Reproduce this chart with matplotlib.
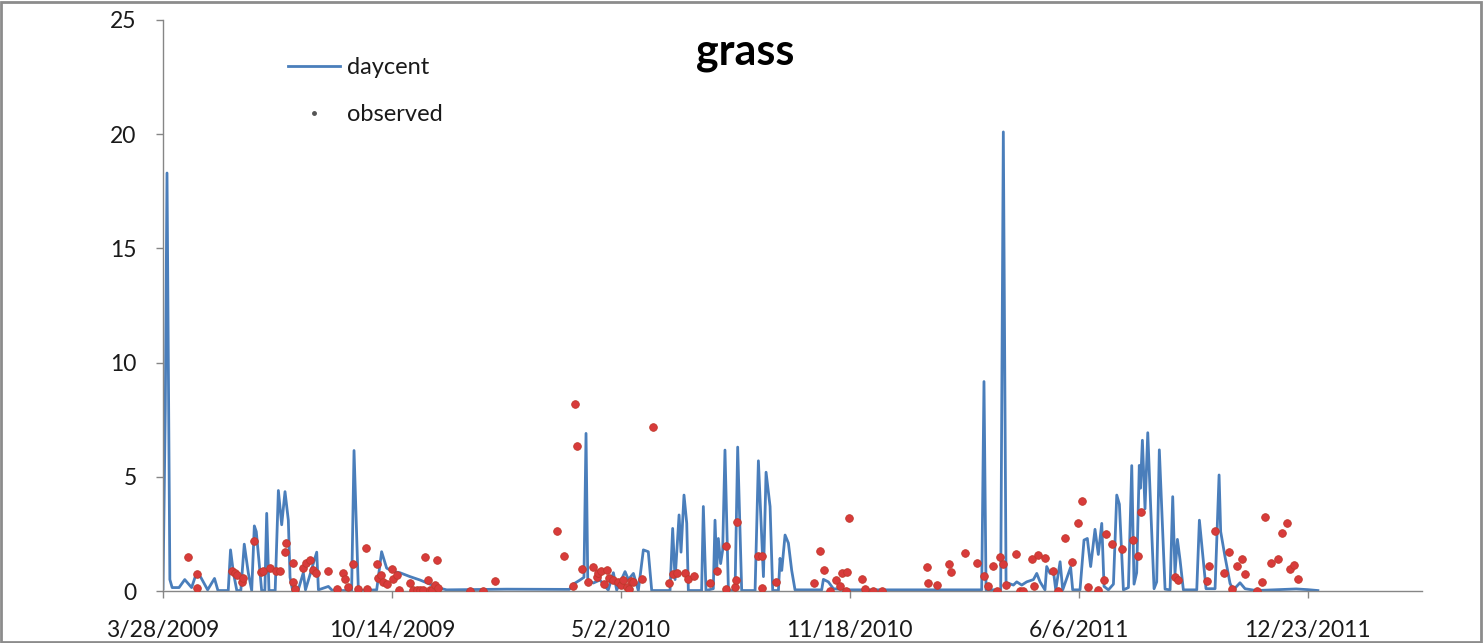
import datetime as dt
import matplotlib
matplotlib.use("Agg")
import matplotlib.pyplot as plt
import matplotlib.dates as mdates
from matplotlib.lines import Line2D
from matplotlib.patches import Rectangle

plt.rcParams['font.family'] = ['Lato', 'DejaVu Sans']

start_date = "3/28/2009"
title = "grass"
series_names = ["daycent", "observed"]
tick_labels = ["3/28/2009", "10/14/2009", "5/2/2010", "11/18/2010", "6/6/2011", "12/23/2011"]
x_span_days = 1100
y_max = 25

# daycent (days after start date, value)
daycent_day = [0, 2, 3.5, 6, 8, 14, 19, 25, 29, 33, 39, 45, 48, 57, 59, 61.5, 64.5, 68, 71, 74.5, 77.5,
               79.8, 81.5, 83.3, 86.2, 89, 90.6, 92.6, 98, 100.8, 103.7, 106.6, 109.5, 111, 113.3, 118,
               122.6, 124.5, 134.3, 135.8, 144.5, 148, 164.8, 166.9, 170.7, 186.7, 191, 195.4, 201.2,
               207, 215.8, 224.6, 233.3, 242, 247.9, 300, 355, 358.5, 364.3, 367.8, 369.6, 371.1, 376,
               381.8, 389, 393.5, 396.4, 403.7, 406.6, 411, 415.3, 419.7, 424, 427, 443, 445.3, 447.4,
               450.9, 452.6, 455.2, 457.6, 459, 470.6, 472.1, 474.4, 480.8, 482.3, 483.8, 485.2, 487.2,
               489, 491, 494, 499.8, 502.1, 505.6, 517.3, 520.2, 524.6, 526.9, 530.4, 532.7, 537.7,
               539.1, 540.6, 543.5, 546.4, 549.3, 552.2, 575.5, 577, 581.3, 585.7, 600, 715.3, 717.3,
               719.1, 731.9, 734.2, 736.6, 738.6, 743, 745.9, 750.3, 754.6, 760.5, 763.4, 766.3, 770.6,
               772.1, 775, 777.9, 780, 783.8, 786.1, 793, 794.8, 801.2, 804.7, 807.6, 810.5, 814.3,
               817.2, 820.2, 822.2, 826, 830.4, 833.3, 835.6, 839.1, 843.5, 846.4, 848.4, 850.7, 853,
               854, 855.7, 858, 860.4, 863, 865.9, 868.2, 870.5, 872.6, 875.5, 879.9, 882.2, 884.2,
               886.3, 888.6, 891.5, 903.2, 905.5, 908.4, 911.3, 919.2, 922.7, 924.1, 927.9, 932.3,
               935.2, 941, 945.4, 955, 980, 990, 1000, 1009]
daycent_val = [0.1, 8.0, 18.3, 0.5, 0.15, 0.15, 0.5, 0.15, 0.75, 0.6, 0.05, 0.55, 0.02, 0.02, 1.8, 0.8,
               0.02, 0.02, 2.05, 0.8, 0.02, 2.85, 2.6, 1.6, 0.02, 0.02, 3.4, 0.02, 0.02, 4.4, 2.9, 4.35,
               3.1, 0.6, 0.02, 0.02, 0.8, 0.05, 1.7, 0.05, 0.2, 0.02, 0.02, 6.15, 0.02, 0.05, 1.72, 1.0,
               0.85, 0.8, 0.63, 0.48, 0.3, 0.12, 0.05, 0.08, 0.07, 0.3, 0.48, 0.6, 6.9, 0.5, 0.35, 0.48,
               0.04, 0.8, 0.04, 0.85, 0.5, 0.77, 0.02, 1.8, 1.72, 0.02, 0.02, 2.74, 0.5, 3.33, 1.7, 4.2,
               2.96, 0.02, 0.02, 3.7, 0.02, 0.1, 3.1, 1.0, 2.3, 1.2, 1.8, 6.17, 0.02, 0.02, 6.3, 0.02,
               0.02, 5.7, 0.63, 5.2, 3.7, 0.02, 0.02, 1.43, 0.9, 2.45, 2.1, 0.9, 0.05, 0.05, 0.51, 0.4,
               0.1, 0.05, 0.05, 9.17, 0.05, 0.05, 20.1, 0.2, 0.34, 0.26, 0.4, 0.26, 0.4, 0.5, 0.77, 0.4,
               0.05, 1.07, 0.77, 0.9, 0.05, 1.28, 0.05, 1.04, 0.05, 0.05, 2.23, 2.3, 1.07, 2.7, 1.6,
               2.96, 0.2, 0.05, 0.3, 4.2, 3.8, 0.05, 0.15, 5.49, 0.3, 0.8, 5.5, 4.5, 6.6, 3.6, 6.93,
               3.6, 0.1, 0.4, 6.18, 3.6, 0.08, 0.05, 4.13, 0.77, 2.26, 1.36, 0.05, 0.05, 3.1, 1.6, 0.1,
               0.1, 5.08, 2.6, 1.5, 0.33, 0.05, 0.36, 0.1, 0.02, 0.07, 0.09, 0.06, 0.02]

# observed (days after start date, value)
obs_day = [22.1, 29.4, 30, 60, 62.9, 64.9, 68.7, 70.2, 79.5, 85.3, 87.7, 93.5, 98.7, 102.2, 106.9, 107.5,
           113.9, 113.3, 115.3, 122.6, 124.7, 128.4, 130.8, 133.7, 143.9, 151.7, 157, 159, 161.9, 166.3,
           170.7, 177.1, 178, 186.7, 188.2, 190.5, 192.5, 196, 200.4, 201.3, 204.2, 206.2, 215.8, 218.7,
           221.6, 224.6, 227.5, 228.9, 231.8, 233.3, 234.8, 237.7, 239.7, 240.6, 268.2, 279.9, 290.1,
           344, 350.7, 358, 360, 362, 366.4, 371.6, 376, 378.9, 380.4, 382.7, 385.3, 387.7, 390, 393.5,
           397.9, 400, 401.7, 405.2, 407.5, 408.6, 410.4, 418.2, 428.4, 442.4, 445.3, 449.4, 456.1, 459,
           463.9, 478, 483.8, 491.7, 491.9, 499.8, 500.7, 501.2, 519.6, 523.7, 523.1, 535.6, 569.1, 574,
           577.8, 582.8, 588, 591.5, 593, 597.4, 596.8, 599.7, 611, 613.4, 620.1, 628, 667.3, 668.7, 676,
           687.1, 688.2, 700.7, 711, 717.3, 721.1, 724.9, 728.4, 731.3, 733.7, 736.6, 745, 748.8, 751.7,
           759, 761, 764.2, 770.6, 777.9, 781.7, 788.1, 794, 799.8, 802.7, 808.5, 817.3, 822.2, 823.7,
           829.5, 838.2, 847.8, 852.2, 854.5, 884.2, 886.5, 911.9, 914.2, 919.2, 927.1, 931.7, 933.8,
           938.8, 942.6, 945.4, 956.2, 960, 963, 968, 974.6, 977.5, 981.9, 984.7, 988.5, 991.4]
obs_val = [1.5, 0.73, 0.12, 0.89, 0.77, 0.7, 0.41, 0.55, 2.2, 0.85, 0.88, 0.99, 0.89, 0.89, 1.72, 2.09,
           1.21, 0.41, 0.07, 0.99, 1.21, 1.36, 0.92, 0.77, 0.88, 0.09, 0.8, 0.51, 0.19, 1.18, 0.07, 1.9,
           0.07, 1.18, 0.55, 0.7, 0.38, 0.31, 0.96, 0.53, 0.7, 0.04, 0.34, 0.04, 0.04, 0.04, 0.04, 1.5,
           0.48, 0.04, 0.04, 0.26, 1.36, 0.12, 0.01, 0.01, 0.44, 2.63, 1.53, 0.23, 8.19, 6.36, 0.96, 0.41,
           1.04, 0.63, 0.8, 0.89, 0.29, 0.92, 0.55, 0.48, 0.41, 0.26, 0.48, 0.19, 0.07, 0.44, 0.41, 0.51,
           7.2, 0.34, 0.74, 0.8, 0.77, 0.51, 0.66, 0.34, 0.88, 1.97, 0.07, 0.16, 0.48, 3.04, 1.53, 1.53,
           0.12, 0.38, 0.34, 1.75, 0.92, 0.01, 0.48, 0.22, 0.77, 0.82, 0.01, 3.18, 0.53, 0.07, 0.01, 0.01,
           1.07, 0.34, 0.26, 1.18, 0.82, 1.68, 1.24, 0.67, 0.22, 1.09, 0.01, 1.5, 1.18, 0.26, 1.62, 0.01,
           0.01, 1.39, 0.22, 1.58, 1.43, 0.89, 0.01, 2.31, 1.28, 2.96, 3.96, 0.16, 0.04, 0.48, 2.48, 2.06,
           1.82, 2.23, 1.53, 3.47, 0.63, 0.48, 0.45, 1.09, 2.63, 0.77, 1.72, 0.07, 1.09, 1.4, 0.73, 0.01,
           0.39, 3.26, 1.24, 1.4, 2.53, 2.96, 0.96, 1.14, 0.54]

# ---------------------------------------------------------------
W, H = 1484, 643
fig = plt.figure(figsize=(W / 100, H / 100), dpi=100)
fig.patch.set_facecolor("white")
fig.patches.append(Rectangle((0.001, 0.002), 0.997, 0.995, transform=fig.transFigure,
                             fill=False, edgecolor="#8c8c8c", linewidth=2.0))

ax = fig.add_axes([163 / W, 1 - 591 / H, (1422 - 163) / W, (591 - 20) / H])

t0 = mdates.date2num(dt.datetime.strptime(start_date, "%m/%d/%Y"))
dc_x = [t0 + d for d in daycent_day]
ob_x = [t0 + d for d in obs_day]

ax.plot(dc_x, daycent_val, color="#4a7ebb", linewidth=2.0, solid_joinstyle="round", zorder=2)
ax.plot(ob_x, obs_val, linestyle="none", marker="o", markersize=5.5,
        markerfacecolor="#d83b3b", markeredgecolor="#c0392b", markeredgewidth=0.6, zorder=3)

ax.set_xlim(t0, t0 + x_span_days)
ax.set_ylim(0, y_max)

tick_pos = [mdates.date2num(dt.datetime.strptime(s, "%m/%d/%Y")) for s in tick_labels]
ax.set_xticks(tick_pos)
ax.set_xticklabels(tick_labels)
ax.set_yticks(range(0, y_max + 1, 5))

for side in ["top", "right"]:
    ax.spines[side].set_visible(False)
for side in ["left", "bottom"]:
    ax.spines[side].set_color("#868686")
    ax.spines[side].set_linewidth(1.0)

ax.tick_params(axis="both", direction="out", length=5, width=1, color="#868686",
               labelsize=16.5, labelcolor="#1a1a1a")
ax.tick_params(axis="y", pad=14)
ax.tick_params(axis="x", pad=16)

fig.text(745 / W, 1 - 52 / H, title, ha="center", va="center", fontsize=31,
         fontweight="bold", color="black")

handles = [Line2D([], [], color="#4a7ebb", linewidth=2.0),
           Line2D([], [], linestyle="none", marker="o", markersize=2.5,
                  markerfacecolor="#555555", markeredgecolor="#555555")]
leg = fig.legend(handles, series_names, loc="upper left",
                 bbox_to_anchor=(288 / W, 1 - 57 / H), frameon=False, fontsize=17,
                 handlelength=2.2, handletextpad=0.3, labelspacing=1.1,
                 borderpad=0, borderaxespad=0)
for t in leg.get_texts():
    t.set_color("#1a1a1a")

fig.savefig("out.png", dpi=100)
